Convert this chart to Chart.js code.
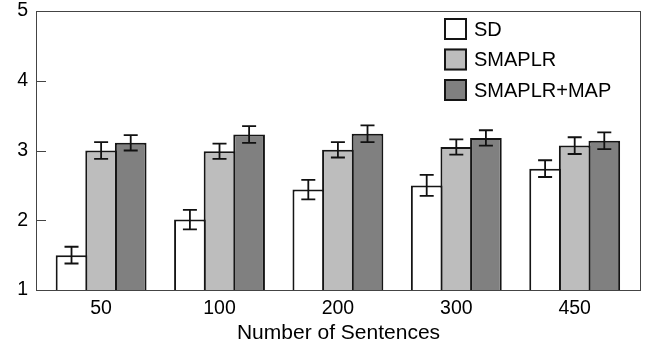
<!doctype html>
<html>
<head>
<meta charset="utf-8" />
<title>Number of Sentences</title>
<script src="https://cdn.jsdelivr.net/npm/chart.js@4.4.1/dist/chart.umd.min.js"></script>
<style>
  body { margin: 0; background: #fff; }
  #wrap { width: 652px; height: 347px; }
</style>
</head>
<body>
<div id="wrap"><canvas id="canvas"></canvas></div>
<script>
// scores per training-set size, with +/- error
const sentences = ['50', '100', '200', '300', '450'];
const seriesNames = ['SD', 'SMAPLR', 'SMAPLR+MAP'];
const sdScores = [1.50, 2.01, 2.44, 2.50, 2.74];
const sdErrors = [0.12, 0.14, 0.14, 0.15, 0.12];
const smaplrScores = [3.00, 2.99, 3.01, 3.05, 3.07];
const smaplrErrors = [0.12, 0.11, 0.11, 0.11, 0.12];
const mapScores = [3.11, 3.23, 3.24, 3.18, 3.14];
const mapErrors = [0.11, 0.12, 0.12, 0.11, 0.12];
const yTicks = [1, 2, 3, 4, 5];

const fillColors = ['#ffffff', '#bdbdbd', '#808080'];
const FONT = "'Liberation Sans', Arial, sans-serif";

function toPoints(values) {
  return values.map((v, i) => ({ x: i, y: v }));
}

function makeSet(k, values, errors) {
  return {
    label: seriesNames[k],
    data: toPoints(values),
    errors: errors,
    base: 1,
    backgroundColor: fillColors[k],
    borderColor: '#151515',
    borderWidth: 2,
    borderSkipped: 'start',
    categoryPercentage: 0.75,
    barPercentage: 1.07
  };
}

// box around the plot, with inward ticks on the left side
const frame = {
  id: 'frame',
  afterDatasetsDraw(chart) {
    const { ctx, chartArea: a } = chart;
    const y = chart.scales.y;
    ctx.save();
    ctx.strokeStyle = '#444';
    ctx.lineWidth = 1;
    ctx.strokeRect(a.left + 0.5, a.top + 0.5, a.right - a.left - 1, a.bottom - a.top);
    ctx.beginPath();
    yTicks.forEach(t => {
      const py = Math.round(y.getPixelForValue(t)) + 0.5;
      ctx.moveTo(a.left, py);
      ctx.lineTo(a.left + 10, py);
    });
    ctx.stroke();
    ctx.restore();
  }
};

const errorBars = {
  id: 'errorBars',
  afterDatasetsDraw(chart) {
    const ctx = chart.ctx, y = chart.scales.y;
    ctx.save();
    ctx.strokeStyle = '#111';
    ctx.lineWidth = 1.8;
    chart.data.datasets.forEach((ds, d) => {
      chart.getDatasetMeta(d).data.forEach((bar, i) => {
        const v = ds.data[i].y, e = ds.errors[i];
        const top = y.getPixelForValue(v + e), bot = y.getPixelForValue(v - e);
        ctx.beginPath();
        ctx.moveTo(bar.x, top); ctx.lineTo(bar.x, bot);
        ctx.moveTo(bar.x - 7, top); ctx.lineTo(bar.x + 7, top);
        ctx.moveTo(bar.x - 7, bot); ctx.lineTo(bar.x + 7, bot);
        ctx.stroke();
      });
    });
    ctx.restore();
  }
};

// legend in the upper right of the plot
const boxLegend = {
  id: 'boxLegend',
  afterDraw(chart) {
    const { ctx, chartArea: a } = chart;
    const x0 = a.right - 197, y0 = a.top + 7;
    ctx.save();
    ctx.font = '20px ' + FONT;
    ctx.textBaseline = 'middle';
    chart.data.datasets.forEach((ds, k) => {
      const top = y0 + k * 30.5;
      ctx.fillStyle = ds.backgroundColor;
      ctx.fillRect(x0, top, 23, 22);
      ctx.strokeStyle = '#151515';
      ctx.lineWidth = 2;
      ctx.strokeRect(x0 + 1, top + 1, 21, 20);
      ctx.fillStyle = '#000';
      ctx.fillText(ds.label, x0 + 30, top + 12);
    });
    ctx.restore();
  }
};

new Chart(document.getElementById('canvas'), {
  type: 'bar',
  data: {
    datasets: [
      makeSet(0, sdScores, sdErrors),
      makeSet(1, smaplrScores, smaplrErrors),
      makeSet(2, mapScores, mapErrors)
    ]
  },
  options: {
    responsive: true,
    maintainAspectRatio: false,
    animation: false,
    layout: { padding: { top: 11, right: 11, left: 0, bottom: 0 } },
    plugins: {
      legend: { display: false },
      tooltip: { enabled: false }
    },
    scales: {
      x: {
        type: 'linear',
        offset: false,
        min: -0.55,
        max: 4.56,
        grid: { display: false, drawTicks: false, offset: false },
        border: { display: false },
        afterBuildTicks: s => { s.ticks = sentences.map((_, i) => ({ value: i })); },
        afterFit: s => { s.height = 57; s.paddingLeft = 0; s.paddingRight = 0; },
        ticks: {
          color: '#000',
          padding: 7,
          font: { family: FONT, size: 19.5 },
          callback: v => sentences[v]
        },
        title: {
          display: true,
          text: 'Number of Sentences',
          color: '#000',
          padding: { top: 0, bottom: 1 },
          font: { family: FONT, size: 21 }
        }
      },
      y: {
        min: 1,
        max: 5,
        grid: { display: false, drawTicks: false },
        border: { display: false },
        afterBuildTicks: s => { s.ticks = yTicks.map(v => ({ value: v })); },
        afterFit: s => { s.width = 36; s.paddingTop = 0; s.paddingBottom = 0; },
        ticks: {
          color: '#000',
          padding: 8,
          font: { family: FONT, size: 19.5 }
        }
      }
    }
  },
  plugins: [frame, errorBars, boxLegend]
});
</script>
</body>
</html>
